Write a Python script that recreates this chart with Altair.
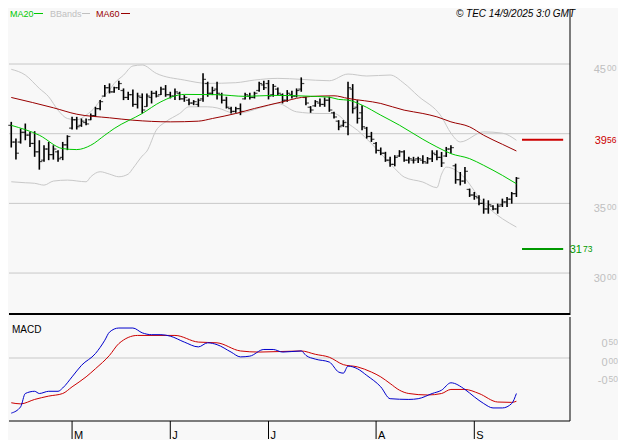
import altair as alt
import pandas as pd

# ---------------- data ----------------
high = [40.85, 39.65, 40.37, 40.73, 40.13, 40.18, 39.53, 39.17, 39.41, 39.17,
        38.82, 39.41, 39.89, 41.21, 41.21, 41.09, 41.09, 41.45, 41.93, 42.41,
        43.49, 43.61, 43.37, 43.80, 43.25, 43.01, 43.18, 42.94, 42.89, 42.89,
        43.08, 43.08, 43.37, 43.49, 43.01, 43.25, 43.01, 42.77, 42.53, 42.41,
        42.53, 44.33, 43.73, 43.37, 43.73, 42.94, 42.65, 41.93, 41.93, 42.17,
        42.94, 42.94, 43.01, 43.73, 43.80, 43.85, 43.56, 43.32, 42.89, 43.13,
        43.08, 43.25, 44.04, 42.65, 41.98, 42.41, 42.53, 42.60, 42.65, 41.57,
        40.97, 40.97, 43.73, 43.56, 42.41, 42.05, 40.49, 40.13, 39.41, 39.01,
        38.70, 38.34, 38.46, 38.82, 38.82, 38.34, 38.34, 38.34, 38.45, 38.33,
        38.81, 38.81, 38.69, 39.05, 39.17, 37.85, 37.25, 37.61, 36.06, 35.82,
        35.58, 35.34, 35.22, 34.86, 34.98, 35.34, 35.46, 35.82, 36.89]
low = [39.01, 38.14, 39.29, 39.53, 39.05, 38.34, 37.42, 37.98, 38.10, 38.14,
       37.98, 38.10, 38.82, 40.30, 40.30, 40.49, 40.61, 40.97, 41.21, 41.69,
       42.65, 42.89, 42.94, 43.13, 42.41, 42.41, 41.93, 41.81, 41.45, 41.93,
       42.17, 42.60, 42.77, 42.65, 42.53, 42.41, 42.41, 42.29, 42.05, 42.05,
       41.93, 42.29, 42.65, 42.77, 42.46, 42.17, 41.81, 41.45, 41.50, 41.33,
       42.46, 42.46, 42.53, 43.01, 43.13, 42.46, 42.65, 42.77, 42.17, 42.29,
       42.53, 42.60, 43.01, 42.05, 41.50, 41.93, 41.93, 41.93, 41.57, 41.09,
       40.25, 40.49, 39.89, 41.45, 40.73, 40.25, 39.65, 39.41, 38.58, 38.46,
       37.98, 37.62, 37.66, 38.34, 37.98, 37.86, 37.86, 37.90, 37.85, 37.85,
       37.97, 38.09, 37.61, 38.33, 38.57, 36.41, 36.29, 36.41, 35.46, 35.26,
       34.86, 34.26, 34.26, 34.50, 34.26, 34.74, 34.74, 34.98, 35.46]
opn = [40.6, 39.4, 39.4, 40.1, 39.9, 39.3, 38.7, 38.1, 38.9, 38.5,
       38.7, 38.3, 39.2, 40.4, 41.0, 40.6, 40.8, 41.0, 41.3, 41.8,
       42.7, 43.3, 43.0, 43.3, 43.1, 42.6, 42.8, 42.1, 42.6, 41.95,
       42.6, 42.9, 42.8, 43.2, 42.8, 42.7, 42.9, 42.5, 42.4, 42.2,
       42.1, 42.5, 43.6, 42.9, 43.2, 42.8, 42.4, 41.8, 41.6, 41.8,
       42.5, 42.7, 42.6, 43.1, 43.5, 43.6, 42.8, 43.2, 42.8, 42.4,
       42.8, 42.7, 43.2, 42.6, 41.9, 42.0, 42.2, 42.1, 42.4, 41.5,
       40.9, 40.6, 40.5, 43.2, 41.9, 41.5, 40.4, 39.8, 39.3, 38.8,
       38.6, 38.1, 37.8, 38.4, 38.7, 38.1, 38.1, 38.2, 38.1, 37.9,
       38.2, 38.5, 38.3, 38.4, 38.9, 37.7, 36.7, 36.6, 36.0, 35.6,
       35.4, 35.0, 34.6, 34.8, 34.6, 34.9, 35.1, 35.3, 35.7]
cls = [39.4, 38.6, 40.1, 39.9, 39.3, 38.7, 38.0, 38.9, 38.5, 38.9,
       38.2, 39.2, 39.8, 41.0, 40.5, 40.9, 40.7, 41.3, 41.8, 42.3,
       43.3, 43.0, 43.3, 43.6, 42.6, 42.8, 42.1, 42.7, 41.7, 42.7,
       42.9, 42.7, 43.2, 42.8, 42.7, 43.0, 42.5, 42.6, 42.2, 42.3,
       42.4, 43.9, 42.9, 43.1, 42.9, 42.4, 41.9, 41.6, 41.8, 41.6,
       42.8, 42.6, 42.9, 43.6, 43.3, 42.7, 43.4, 42.9, 42.4, 42.9,
       42.7, 43.1, 43.6, 42.2, 41.7, 42.3, 42.1, 42.4, 41.7, 41.2,
       40.5, 40.8, 43.3, 41.8, 41.1, 40.5, 39.8, 39.6, 38.8, 38.6,
       38.1, 37.8, 38.3, 38.7, 38.1, 38.2, 38.1, 38.2, 38.0, 38.2,
       38.6, 38.3, 37.9, 38.9, 39.0, 36.7, 36.6, 37.3, 35.6, 35.5,
       35.0, 34.6, 34.9, 34.6, 34.8, 35.1, 35.3, 35.7, 36.8]

ma20_i = [0, 6, 11, 14, 17, 20, 22, 28, 32, 37, 44, 50, 56, 63, 68, 70, 72, 75,
          79, 83, 88, 91, 94, 98, 101, 105, 108]
ma20_v = [40.60, 39.89, 38.93, 38.86, 39.17, 39.89, 40.37, 41.45, 42.29, 42.82,
          42.80, 42.68, 42.75, 42.70, 42.62, 42.46, 42.41, 42.05, 41.33, 40.61,
          39.60, 39.05, 38.57, 38.21, 37.73, 37.01, 36.41]
ma60_i = [0, 9, 14, 21, 26, 34, 40, 43, 48, 52, 58, 62, 66, 69, 72, 79, 84, 88,
          91, 94, 98, 101, 105, 108]
ma60_v = [42.60, 41.86, 41.40, 41.14, 40.97, 40.85, 40.90, 41.09, 41.45, 41.81,
          42.29, 42.60, 42.70, 42.72, 42.53, 42.17, 41.69, 41.45, 41.21, 40.85,
          40.49, 39.89, 39.24, 38.76]
bbu_i = [0, 3, 6, 8, 10, 12, 14, 16, 18, 19, 21, 22, 24, 26, 28, 31, 37, 42, 48,
         52, 57, 62, 68, 72, 76, 81, 84, 87, 92, 94, 96, 101, 105, 108]
bbu_v = [44.62, 44.21, 43.25, 42.65, 41.69, 41.09, 41.00, 41.33, 41.93, 42.41,
         43.13, 43.60, 44.20, 44.86, 44.93, 44.33, 43.85, 43.61, 43.66, 43.85,
         43.97, 43.90, 43.80, 44.28, 44.14, 44.21, 43.61, 42.70, 41.21, 40.04,
         39.41, 40.13, 40.04, 39.53]
bbl_i = [0, 3, 5, 7, 9, 12, 16, 17, 19, 21, 23, 25, 26, 28, 29, 31, 33, 36, 38,
         42, 44, 48, 54, 57, 61, 66, 69, 72, 74, 77, 80, 82, 84, 88, 91, 92, 93,
         97, 99, 100, 103, 105, 108]
bbl_v = [36.55, 36.48, 36.44, 36.31, 36.60, 36.67, 36.55, 36.91, 37.27, 37.10,
         36.91, 37.10, 37.51, 38.40, 38.75, 40.25, 40.85, 41.45, 41.93, 41.93,
         41.85, 41.45, 41.93, 42.17, 41.57, 41.45, 41.45, 40.73, 40.25, 39.29,
         38.21, 37.50, 36.89, 36.53, 36.13, 37.10, 37.60, 36.80, 35.90, 35.40,
         34.40, 33.90, 33.30]

macd_i = [0, 2, 3, 5, 6, 8, 10, 11, 13, 15, 18, 20, 21, 23, 26, 28, 30, 32, 34,
          37, 40, 42, 44, 47, 49, 51, 54, 56, 58, 62, 63, 65, 68, 70, 71, 72,
          74, 76, 79, 81, 85, 87, 90, 92, 94, 97, 99, 101, 103, 105, 107, 108]
macd_v = [-1.49, -1.32, -0.96, -0.90, -0.96, -0.90, -0.90, -0.81, -0.51, -0.20,
          0.12, 0.48, 0.70, 0.81, 0.81, 0.68, 0.63, 0.63, 0.59, 0.43,
          0.30, 0.41, 0.36, 0.16, 0.03, 0.05, 0.23, 0.23, 0.16, 0.19,
          0.07, -0.03, -0.11, -0.38, -0.41, -0.22, -0.29, -0.47, -0.78, -1.10,
          -1.12, -1.10, -0.96, -0.87, -0.67, -0.85, -1.05, -1.23, -1.35, -1.35,
          -1.23, -0.96]
sig_i = [0, 2, 5, 8, 11, 13, 16, 18, 21, 23, 27, 35, 40, 44, 49, 53, 62, 65, 68,
         71, 74, 77, 79, 81, 83, 85, 89, 92, 94, 97, 100, 104, 107, 108]
sig_v = [-1.21, -1.24, -1.12, -1.03, -0.96, -0.78, -0.51, -0.29, 0.07, 0.39,
         0.61, 0.61, 0.43, 0.41, 0.19, 0.16, 0.19, 0.10, 0.02, -0.18,
         -0.24, -0.38, -0.51, -0.69, -0.87, -0.96, -1.00, -0.96, -0.85, -0.85,
         -0.96, -1.19, -1.20, -1.17]

month_pos = [13, 34, 55, 78, 99]
month_lab = ["M", "J", "J", "A", "S"]
price_ticks = [30, 35, 40, 45]
macd_ticks = [0.5, 0.0, -0.5]
level_red = 39.56
level_green = 31.73

# ---------------- layout constants ----------------
W, HP, HM = 561, 307, 104
TICK = 18
X_DOM = [-0.485, 119.46]
P_DOM = [26.99, 49.02]
M_DOM = [-1.703, 1.108]
MARK_X0, MARK_X1 = 109.2, 118.0
FONT = "Liberation Sans"
LBL = "#c0c0c0"
GRID = "#c8c8c8"

xs = alt.Scale(domain=X_DOM, nice=False, zero=False)
ps = alt.Scale(domain=P_DOM, nice=False, zero=False)
ms = alt.Scale(domain=M_DOM, nice=False, zero=False)


def xq(f="i"):
    return alt.X(f"{f}:Q", scale=xs, axis=None)


def yq(f, sc):
    return alt.Y(f"{f}:Q", scale=sc, axis=None)


def split(v):
    a, b = f"{v:.2f}".split(".")
    return a, b


def label_df(vals):
    return pd.DataFrame({"v": vals, "a": [split(v)[0] for v in vals],
                         "b": [split(v)[1] for v in vals]})


bars = pd.DataFrame({"i": list(range(len(high))), "o": opn, "h": high,
                     "l": low, "c": cls})
dummy = pd.DataFrame({"d": [0]})


def line(idx, val, color, sc):
    return alt.Chart(pd.DataFrame({"i": idx, "v": val})).mark_line(
        color=color, strokeWidth=1, interpolate="monotone").encode(
        x=xq(), y=yq("v", sc))


# ---------------- price panel ----------------
grid = alt.Chart(pd.DataFrame({"v": price_ticks})).mark_rule(
    color=GRID, strokeWidth=1).encode(y=yq("v", ps))
bbu = line(bbu_i, bbu_v, "#c8c8c8", ps)
bbl = line(bbl_i, bbl_v, "#c8c8c8", ps)
ma60 = line(ma60_i, ma60_v, "#990000", ps)
ma20 = line(ma20_i, ma20_v, "#00c800", ps)

hl = alt.Chart(bars).mark_rule(color="black", strokeWidth=1.6).encode(
    x=xq(), y=yq("h", ps), y2="l:Q")
otick = alt.Chart(bars).mark_tick(orient="horizontal", color="black", size=3,
                                  thickness=1.2, xOffset=-1.5).encode(
    x=xq(), y=yq("o", ps))
ctick = alt.Chart(bars).mark_tick(orient="horizontal", color="black", size=3,
                                  thickness=1.2, xOffset=1.5).encode(
    x=xq(), y=yq("c", ps))

lev = pd.DataFrame({"v": [level_red, level_green], "x0": [MARK_X0, MARK_X0],
                    "x1": [MARK_X1, MARK_X1], "k": ["r", "g"]})
levels = alt.Chart(lev).mark_rule(strokeWidth=2).encode(
    x=xq("x0"), x2="x1:Q", y=yq("v", ps),
    color=alt.Color("k:N", scale=alt.Scale(domain=["r", "g"],
                                           range=["#cc0000", "#009900"]),
                    legend=None))

# the 40.00 label sits under the red 39.56 level label in the reference
shown_ticks = [v for v in price_ticks if abs(v - level_red) > 1]
pl = label_df(shown_ticks)
plab_a = alt.Chart(pl).mark_text(align="right", baseline="top", fontSize=11,
                                 color=LBL, font=FONT).encode(
    x=alt.value(597), y=yq("v", ps), text="a:N")
plab_b = alt.Chart(pl).mark_text(align="left", baseline="top", fontSize=8.5,
                                 color=LBL, font=FONT).encode(
    x=alt.value(598), y=yq("v", ps), text="b:N")

rl = label_df([level_red])
rlab_a = alt.Chart(rl).mark_text(align="right", baseline="top", fontSize=11,
                                 dy=-5, color="#cc0000", font=FONT).encode(
    x=alt.value(598), y=yq("v", ps), text="a:N")
rlab_b = alt.Chart(rl).mark_text(align="left", baseline="top", fontSize=8.5,
                                 dy=-4, color="#cc0000", font=FONT).encode(
    x=alt.value(598), y=yq("v", ps), text="b:N")
gl = label_df([level_green])
glab_a = alt.Chart(gl).mark_text(align="right", baseline="top", fontSize=11,
                                 dy=-5, color="#009900", font=FONT).encode(
    x=alt.value(573), y=yq("v", ps), text="a:N")
glab_b = alt.Chart(gl).mark_text(align="left", baseline="top", fontSize=8.5,
                                 dy=-4, color="#009900", font=FONT).encode(
    x=alt.value(574), y=yq("v", ps), text="b:N")


def ltext(txt, x, color, align="left", italic=False, size=9):
    return alt.Chart(dummy).mark_text(
        text=txt, align=align, baseline="alphabetic", fontSize=size,
        font=FONT, color=color, fontStyle="italic" if italic else "normal"
    ).encode(x=alt.value(x), y=alt.value(9))


def lseg(x0, x1, color):
    return alt.Chart(dummy).mark_rule(color=color, strokeWidth=1).encode(
        x=alt.value(x0), x2=alt.value(x1), y=alt.value(5.5))


legend = [
    ltext("MA20", 1, "#00c800"), lseg(25, 34, "#00c800"),
    ltext("BBands", 41, "#c0c0c0"), lseg(73, 81, "#c0c0c0"),
    ltext("MA60", 87, "#990000"), lseg(112, 121, "#990000"),
    ltext("\u00a9 TEC 14/9/2025 3:0 GMT", 566, "black", align="right",
          italic=True, size=10),
]

rborder_p = alt.Chart(dummy).mark_rule(color="black", strokeWidth=1).encode(
    x=alt.value(W), y=alt.value(1), y2=alt.value(HP))
bottom_p = alt.Chart(dummy).mark_rule(color="black", strokeWidth=2).encode(
    x=alt.value(0), x2=alt.value(W), y=alt.value(HP - 1))

price = alt.layer(
    grid, bbu, bbl, hl, otick, ctick, ma60, ma20, levels,
    plab_a, plab_b, rlab_a, rlab_b, glab_a, glab_b, *legend,
    rborder_p, bottom_p
).properties(width=W, height=HP)

# ---------------- MACD panel ----------------
zero = alt.Chart(pd.DataFrame({"v": [0.0]})).mark_rule(
    color=GRID, strokeWidth=1).encode(y=yq("v", ms))
sig = line(sig_i, sig_v, "#cc0000", ms)
macd = line(macd_i, macd_v, "#0000cc", ms)

ml = label_df(macd_ticks)
mlab_a = alt.Chart(ml).mark_text(align="right", baseline="top", fontSize=11,
                                 dy=-1, color=LBL, font=FONT).encode(
    x=alt.value(598.5), y=yq("v", ms), text="a:N")
mlab_b = alt.Chart(ml).mark_text(align="left", baseline="top", fontSize=8.5,
                                 dy=-1, color=LBL, font=FONT).encode(
    x=alt.value(599.5), y=yq("v", ms), text="b:N")
mtitle = alt.Chart(dummy).mark_text(text="MACD", align="left",
                                    baseline="alphabetic", fontSize=10,
                                    font=FONT, color="black").encode(
    x=alt.value(3), y=alt.value(16))
rborder_m = alt.Chart(dummy).mark_rule(color="black", strokeWidth=1).encode(
    x=alt.value(W), y=alt.value(0), y2=alt.value(HM))
bottom_m = alt.Chart(dummy).mark_rule(color="black", strokeWidth=1).encode(
    x=alt.value(0), x2=alt.value(W), y=alt.value(HM))

months = pd.DataFrame({"p": month_pos, "lab": month_lab})
mticks = alt.Chart(months).mark_rule(color="black", strokeWidth=1).encode(
    x=xq("p"), y=alt.value(HM), y2=alt.value(HM + TICK))
mlabels = alt.Chart(months).mark_text(align="left", baseline="alphabetic",
                                      dx=2, fontSize=11, font=FONT,
                                      color="black").encode(
    x=xq("p"), y=alt.value(HM + TICK), text="lab:N")

macd_panel = alt.layer(
    zero, sig, macd, mlab_a, mlab_b, mtitle, rborder_m, bottom_m,
    mticks, mlabels
).properties(width=W, height=HM)

chart = alt.vconcat(price, macd_panel, spacing=0).properties(
    padding={"left": 0, "top": 0, "right": 0, "bottom": 0}
).configure(background="#f8f8f8", font=FONT).configure_view(stroke=None)

chart.save("out.html", embed_options={"renderer": "svg", "actions": False})
